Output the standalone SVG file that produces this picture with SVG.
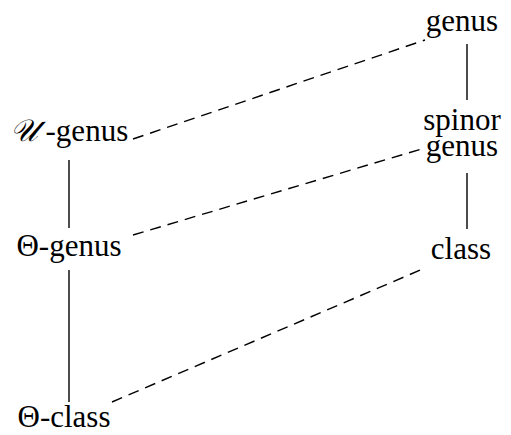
<svg xmlns="http://www.w3.org/2000/svg" width="511" height="435" viewBox="0 0 511 435">
<style>
text{font-family:"Liberation Serif","DejaVu Serif",serif;font-size:31px;fill:#000}
.s{stroke:#000;stroke-width:1.4;fill:none}
.d{stroke:#000;stroke-width:1.4;fill:none;stroke-dasharray:11 7}
</style>
<rect width="511" height="435" fill="#fff"/>
<g id="connectors">
<line class="s" x1="467" y1="44" x2="467" y2="100"/>
<line class="s" x1="467" y1="173" x2="467" y2="229"/>
<line class="s" x1="69" y1="160" x2="69" y2="228"/>
<line class="s" x1="69" y1="270" x2="69" y2="402"/>
<line class="d" x1="133" y1="139" x2="425" y2="40"/>
<line class="d" x1="133" y1="235" x2="425" y2="148"/>
<line class="d" x1="112" y1="402" x2="425" y2="268"/>
</g>
<g id="genus"><text x="462" y="31" text-anchor="middle">genus</text></g>
<g id="spinor-genus"><text x="462" y="130" text-anchor="middle">spinor</text><text x="462" y="156" text-anchor="middle">genus</text></g>
<g id="class"><text x="461" y="259" text-anchor="middle">class</text></g>
<g id="u-genus"><text x="69" y="141" text-anchor="middle"><tspan font-style="italic">𝒰</tspan> -genus</text></g>
<g id="theta-genus"><text x="69" y="256" text-anchor="middle">Θ-genus</text></g>
<g id="theta-class"><text x="64" y="427" text-anchor="middle">Θ-class</text></g>
</svg>
